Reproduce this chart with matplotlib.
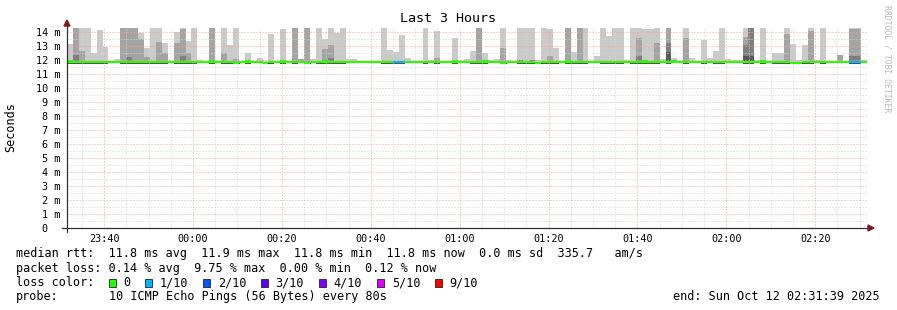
import numpy as np
import matplotlib
matplotlib.use("Agg")
import matplotlib.pyplot as plt
import matplotlib.dates as mdates
from matplotlib.ticker import MultipleLocator, FuncFormatter
from matplotlib.lines import Line2D
from matplotlib.patches import Polygon, Rectangle
from datetime import datetime, timedelta

# ---------------- data (80 s steps, 135 bins, values in ms) ----------------
start_time = datetime(2025, 10, 11, 23, 31, 39)
step_seconds = 80

ping_max = [
    13.14, 14.5, 14.5, 14.5, 12.52, 14.14, 12.95, 11.95, 12.05, 14.5,
    14.5, 14.5, 13.9, 12.83, 14.5, 14.5, 13.19, 11.95, 14.0, 14.5,
    13.38, 14.5, 12.0, 11.9, 14.5, 11.95, 14.5, 13.08, 14.5, 11.9,
    12.52, 11.9, 12.12, 11.9, 13.86, 11.9, 14.21, 11.9, 14.5, 12.05,
    14.5, 12.1, 14.5, 13.48, 14.5, 13.95, 14.5, 12.1, 12.1, 11.9,
    11.9, 11.9, 11.9, 14.5, 12.71, 12.57, 13.79, 12.12, 11.9, 11.9,
    14.5, 12.0, 14.05, 11.9, 11.9, 13.6, 11.9, 12.05, 12.65, 14.5,
    12.5, 12.0, 12.05, 14.5, 11.98, 11.95, 14.5, 14.5, 14.5, 11.98,
    14.5, 14.2, 12.86, 11.9, 14.5, 12.57, 14.5, 14.5, 11.9, 12.3,
    14.5, 13.71, 14.5, 14.5, 11.98, 14.5, 14.5, 14.22, 14.19, 14.5,
    12.05, 14.5, 12.12, 11.9, 14.5, 12.12, 11.9, 13.45, 12.12, 12.65,
    14.5, 12.1, 11.98, 11.98, 14.5, 14.5, 11.98, 14.5, 11.9, 12.5,
    12.5, 14.5, 13.14, 11.98, 13.1, 14.5, 11.98, 14.5, 11.9, 11.9,
    12.33, 11.9, 14.5, 14.5, 11.98,
]

ping_9 = [
    11.8, 14.5, 12.66, 11.8, 11.8, 11.8, 11.8, 11.8, 11.8, 14.5,
    14.5, 14.5, 13.52, 12.19, 11.8, 13.3, 12.52, 11.8, 13.24, 14.2,
    12.5, 11.8, 11.8, 11.8, 14.5, 11.8, 12.48, 11.8, 12.1, 11.8,
    11.8, 11.8, 11.8, 11.8, 11.8, 11.8, 11.8, 11.8, 14.5, 12.05,
    14.5, 11.8, 11.8, 12.8, 13.07, 11.8, 11.8, 11.8, 11.8, 11.8,
    11.8, 11.8, 11.8, 11.8, 11.8, 11.8, 11.8, 11.8, 11.8, 11.8,
    11.8, 11.8, 12.15, 11.8, 11.8, 11.8, 11.8, 11.8, 11.8, 14.5,
    11.8, 11.8, 11.8, 12.87, 11.8, 11.8, 11.8, 11.8, 11.8, 11.8,
    11.8, 12.3, 11.8, 11.8, 14.5, 11.8, 14.5, 11.8, 11.8, 11.8,
    11.8, 11.8, 11.8, 11.8, 11.8, 11.8, 13.6, 11.8, 11.8, 13.19,
    11.8, 14.5, 11.8, 11.8, 13.6, 11.8, 11.8, 11.8, 11.8, 11.8,
    11.8, 11.8, 11.8, 11.8, 13.62, 14.5, 11.8, 11.8, 11.8, 11.8,
    11.8, 13.86, 11.8, 11.8, 11.8, 14.1, 11.8, 11.8, 11.8, 11.8,
    12.33, 11.8, 14.2, 14.2, 11.8,
]

ping_8 = [
    11.8, 12.36, 11.8, 11.8, 11.8, 11.8, 11.8, 11.8, 11.8, 11.8,
    12.2, 11.8, 11.8, 11.8, 11.8, 11.8, 11.8, 11.8, 11.8, 12.3,
    11.8, 11.8, 11.8, 11.8, 11.8, 11.8, 11.8, 11.8, 11.8, 11.8,
    11.8, 11.8, 11.8, 11.8, 11.8, 11.8, 11.8, 11.8, 11.8, 11.8,
    11.8, 11.8, 11.8, 11.8, 12.15, 11.8, 11.8, 11.8, 11.8, 11.8,
    11.8, 11.8, 11.8, 11.8, 11.8, 11.8, 11.8, 11.8, 11.8, 11.8,
    11.8, 11.8, 11.8, 11.8, 11.8, 11.8, 11.8, 11.8, 11.8, 11.8,
    11.8, 11.8, 11.8, 11.8, 11.8, 11.8, 12.0, 11.8, 12.0, 11.8,
    11.8, 11.8, 11.8, 11.8, 11.8, 11.8, 11.8, 11.8, 11.8, 11.8,
    11.8, 11.8, 11.8, 11.8, 11.8, 11.8, 12.3, 11.8, 11.8, 11.8,
    11.8, 13.19, 11.8, 11.8, 11.8, 11.8, 11.8, 11.8, 11.8, 11.8,
    11.8, 11.8, 11.8, 11.8, 13.1, 14.5, 11.8, 11.8, 11.8, 11.8,
    11.8, 11.8, 11.8, 11.8, 11.8, 11.8, 11.8, 11.8, 11.8, 11.8,
    11.8, 11.8, 12.29, 12.29, 11.8,
]

ping_7 = [
    11.8, 11.8, 11.8, 11.8, 11.8, 11.8, 11.8, 11.8, 11.8, 11.8,
    11.8, 11.8, 11.8, 11.8, 11.8, 11.8, 11.8, 11.8, 11.8, 11.8,
    11.8, 11.8, 11.8, 11.8, 11.8, 11.8, 11.8, 11.8, 11.8, 11.8,
    11.8, 11.8, 11.8, 11.8, 11.8, 11.8, 11.8, 11.8, 11.8, 11.8,
    11.8, 11.8, 11.8, 11.8, 11.8, 11.8, 11.8, 11.8, 11.8, 11.8,
    11.8, 11.8, 11.8, 11.8, 11.8, 11.8, 11.8, 11.8, 11.8, 11.8,
    11.8, 11.8, 11.8, 11.8, 11.8, 11.8, 11.8, 11.8, 11.8, 11.8,
    11.8, 11.8, 11.8, 11.8, 11.8, 11.8, 11.8, 11.8, 11.8, 11.8,
    11.8, 11.8, 11.8, 11.8, 11.8, 11.8, 11.8, 11.8, 11.8, 11.8,
    11.8, 11.8, 11.8, 11.8, 11.8, 11.8, 11.8, 11.8, 11.8, 11.8,
    11.8, 12.6, 11.8, 11.8, 11.8, 11.8, 11.8, 11.8, 11.8, 11.8,
    11.8, 11.8, 11.8, 11.8, 12.29, 12.3, 11.8, 11.8, 11.8, 11.8,
    11.8, 11.8, 11.8, 11.8, 11.8, 11.8, 11.8, 11.8, 11.8, 11.8,
    11.8, 11.8, 11.8, 11.8, 11.8,
]

ping_min = [
    11.69, 11.69, 11.69, 11.69, 11.69, 11.69, 11.69, 11.77, 11.77, 11.69,
    11.69, 11.69, 11.69, 11.69, 11.69, 11.69, 11.69, 11.77, 11.69, 11.69,
    11.69, 11.69, 11.77, 11.77, 11.69, 11.77, 11.69, 11.69, 11.69, 11.77,
    11.69, 11.77, 11.77, 11.77, 11.69, 11.77, 11.69, 11.77, 11.69, 11.77,
    11.69, 11.77, 11.69, 11.69, 11.69, 11.69, 11.69, 11.77, 11.77, 11.77,
    11.77, 11.77, 11.77, 11.69, 11.69, 11.69, 11.69, 11.77, 11.77, 11.77,
    11.69, 11.77, 11.69, 11.77, 11.77, 11.69, 11.77, 11.77, 11.69, 11.69,
    11.69, 11.77, 11.77, 11.69, 11.77, 11.77, 11.69, 11.69, 11.69, 11.77,
    11.69, 11.69, 11.69, 11.77, 11.69, 11.69, 11.69, 11.69, 11.77, 11.77,
    11.69, 11.69, 11.69, 11.69, 11.77, 11.69, 11.69, 11.69, 11.69, 11.69,
    11.77, 11.69, 11.77, 11.77, 11.69, 11.77, 11.77, 11.69, 11.77, 11.69,
    11.69, 11.77, 11.77, 11.77, 11.69, 11.69, 11.77, 11.69, 11.77, 11.69,
    11.69, 11.69, 11.69, 11.77, 11.69, 11.69, 11.77, 11.69, 11.77, 11.77,
    11.77, 11.77, 11.69, 11.69, 11.77,
]

median_rtt = [
    11.9, 11.85, 11.85, 11.85, 11.85, 11.85, 11.85, 11.85, 11.85, 11.85,
    11.85, 11.85, 11.85, 11.85, 11.85, 11.85, 11.85, 11.85, 11.85, 11.85,
    11.85, 11.85, 11.85, 11.85, 11.9, 11.85, 11.85, 11.85, 11.8, 11.85,
    11.9, 11.85, 11.85, 11.8, 11.85, 11.85, 11.9, 11.85, 11.85, 11.85,
    11.8, 11.85, 11.85, 11.9, 11.85, 11.85, 11.85, 11.85, 11.85, 11.85,
    11.85, 11.85, 11.85, 11.85, 11.85, 11.85, 11.85, 11.85, 11.85, 11.85,
    11.85, 11.85, 11.85, 11.85, 11.85, 11.9, 11.85, 11.85, 11.85, 11.85,
    11.9, 11.85, 11.85, 11.8, 11.85, 11.85, 11.85, 11.85, 11.85, 11.8,
    11.85, 11.85, 11.85, 11.85, 11.9, 11.85, 11.85, 11.85, 11.85, 11.85,
    11.85, 11.85, 11.85, 11.85, 11.85, 11.85, 11.85, 11.9, 11.85, 11.85,
    11.85, 11.85, 11.9, 11.85, 11.85, 11.85, 11.85, 11.85, 11.85, 11.85,
    11.85, 11.85, 11.85, 11.85, 11.85, 11.85, 11.85, 11.9, 11.85, 11.85,
    11.85, 11.85, 11.8, 11.8, 11.85, 11.85, 11.85, 11.85, 11.85, 11.85,
    11.85, 11.85, 11.85, 11.85, 11.85,
]

loss_count = [0] * 55 + [1, 1] + [0] * 75 + [1, 1] + [0]

loss_labels = ["0", "1/10", "2/10", "3/10", "4/10", "5/10", "9/10"]
loss_colors = ["#26ff00", "#00b8ff", "#0059ff", "#5e00ff", "#7e00ff", "#dd00ff", "#ff0000"]
loss_limits = [0, 1, 2, 3, 4, 5, 10]

legend_rtt = "median rtt:  11.8 ms avg  11.9 ms max  11.8 ms min  11.8 ms now  0.0 ms sd  335.7   am/s"
legend_loss = "packet loss: 0.14 % avg  9.75 % max  0.00 % min  0.12 % now"
legend_probe_label = "probe:"
legend_probe = "10 ICMP Echo Pings (56 Bytes) every 80s"
legend_end = "end: Sun Oct 12 02:31:39 2025"
title = "Last 3 Hours"
ylabel = "Seconds"
watermark = "RRDTOOL / TOBI OETIKER"

# ---------------- figure ----------------
W, H = 897, 310
MONO = "DejaVu Sans Mono"
plt.rcParams["font.family"] = MONO

fig = plt.figure(figsize=(W / 100, H / 100), dpi=100, facecolor="white")
PL, PR, PT, PB = 67, 867, 28, 228
ax = fig.add_axes([PL / W, 1 - PB / H, (PR - PL) / W, (PB - PT) / H])
ax.set_facecolor("white")

YMAX = 14.29
n = len(ping_max)
times = [start_time + timedelta(seconds=step_seconds * i) for i in range(n + 1)]
x_edges = mdates.date2num(times)
x0 = x_edges[:-1]
bw = x_edges[1] - x_edges[0]

pmin = np.array(ping_min)
for top, col in [(ping_max, "#cacaca"), (ping_9, "#a4a4a4"), (ping_8, "#7e7e7e"), (ping_7, "#585858")]:
    top = np.minimum(np.array(top), YMAX + 0.5)
    ax.bar(x0, top - pmin, bottom=pmin, width=bw, align="edge", color=col,
           linewidth=0, antialiased=False, zorder=1)

med = np.array(median_rtt)
ax.step(x_edges, np.append(med, med[-1]), where="post", color="#202020", lw=0.8, zorder=2.6)

def loss_color(c):
    for lim, colr in zip(loss_limits, loss_colors):
        if c <= lim:
            return colr
    return loss_colors[-1]

half = 1.2 * YMAX / (PB - PT)
ax.bar(x0, 2 * half, bottom=med - half, width=bw, align="edge",
       color=[loss_color(c) for c in loss_count], linewidth=0, antialiased=False, zorder=3)

ax.set_xlim(x_edges[0], x_edges[-1])
ax.set_ylim(0, YMAX)

ax.xaxis.set_major_locator(mdates.MinuteLocator(byminute=[0, 20, 40]))
ax.xaxis.set_minor_locator(mdates.MinuteLocator(byminute=range(0, 60, 5)))
ax.xaxis.set_major_formatter(mdates.DateFormatter("%H:%M"))
ax.yaxis.set_major_locator(MultipleLocator(1))
ax.yaxis.set_minor_locator(MultipleLocator(0.5))
ax.yaxis.set_major_formatter(FuncFormatter(lambda v, p: "0  " if v == 0 else f"{int(round(v))} m"))

ax.set_axisbelow(False)
ax.grid(which="major", color="#f2a0a0", linestyle=(0, (1, 2)), linewidth=0.72)
ax.grid(which="minor", color="#d4d4d4", linestyle=(0, (1, 2)), linewidth=0.72)
for s in ax.spines.values():
    s.set_visible(False)
ax.tick_params(which="both", length=0)
ax.tick_params(axis="x", pad=4.5, labelsize=7.3)
ax.tick_params(axis="y", pad=5, labelsize=7.3)

def fx(px):
    return px / W

def fy(py):
    return 1 - py / H

# axes lines with arrows
fig.add_artist(Line2D([fx(62), fx(870)], [fy(PB), fy(PB)], color="#303030", lw=0.9))
fig.add_artist(Line2D([fx(PL), fx(PL)], [fy(PB + 4), fy(24)], color="#303030", lw=0.9))
fig.add_artist(Polygon([[fx(868), fy(PB - 3)], [fx(868), fy(PB + 3)], [fx(874), fy(PB)]],
                       closed=True, color="#8b1a1a", transform=fig.transFigure))
fig.add_artist(Polygon([[fx(PL - 3), fy(26)], [fx(PL + 3), fy(26)], [fx(PL), fy(20)]],
                       closed=True, color="#8b1a1a", transform=fig.transFigure))

# texts
fig.text(fx(448), fy(19), title, ha="center", va="center", fontsize=9.6, color="black")
fig.text(fx(11), fy(127), ylabel, ha="center", va="center", rotation=90, fontsize=8.5)
fig.text(fx(886.5), fy(59), watermark, ha="center", va="center", rotation=270,
         fontsize=5.9, color="#b8b8b8")

LX = 16
CW = 7.13
FS = 8.5
fig.text(fx(LX), fy(254), legend_rtt, ha="left", va="center", fontsize=FS)
fig.text(fx(LX), fy(268.3), legend_loss, ha="left", va="center", fontsize=FS)
fig.text(fx(LX), fy(282.7), "loss color:", ha="left", va="center", fontsize=FS)
fig.text(fx(LX), fy(296.7), legend_probe_label, ha="left", va="center", fontsize=FS)
fig.text(fx(LX + 13 * CW), fy(296.7), legend_probe, ha="left", va="center", fontsize=FS)
fig.text(fx(880), fy(296.7), legend_end, ha="right", va="center", fontsize=FS)

bx = 108.5
for lab, col in zip(loss_labels, loss_colors):
    fig.add_artist(Rectangle((fx(bx), fy(286.5)), 7 / W, 7.3 / H, transform=fig.transFigure,
                             facecolor=col, edgecolor="#202020", linewidth=0.6))
    fig.text(fx(bx + 14.5), fy(282.7), lab, ha="left", va="center", fontsize=FS)
    bx += 29.5 + len(lab) * CW

fig.savefig("out.png", dpi=100, facecolor="white")
